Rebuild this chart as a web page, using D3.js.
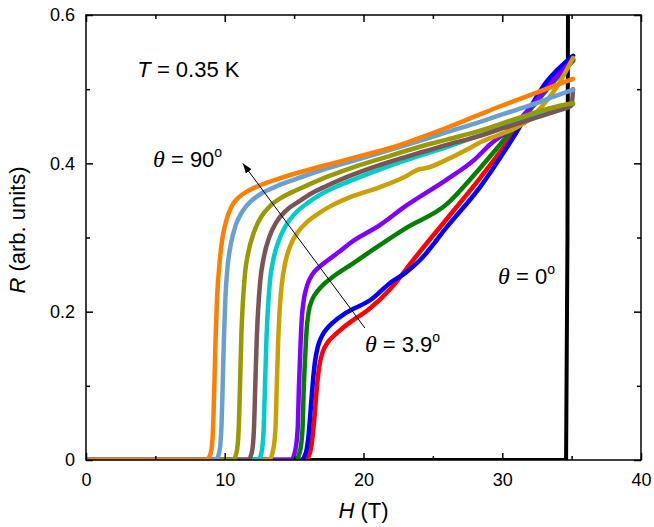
<!DOCTYPE html>
<html>
<head>
<meta charset="utf-8">
<script src="https://cdn.jsdelivr.net/npm/d3@7"></script>
<style>
  body { margin: 0; background: #fff; }
  text { font-family: "Liberation Sans", Arial, sans-serif; }
</style>
</head>
<body>
<div id="chart"></div>
<script>
// field values (T) and resistance (arb. units) for each angle
let h90 = [0, 8.7, 9.0, 9.15, 9.25, 9.35, 9.45, 9.6, 9.8, 10.1, 10.5, 11.0, 11.7, 12.5, 14, 16, 18, 20, 22, 24, 26, 28, 30, 32, 34, 35.1];
let r90 = [0, 0, 0.01, 0.04, 0.1, 0.17, 0.22, 0.26, 0.295, 0.322, 0.342, 0.354, 0.363, 0.370, 0.380, 0.391, 0.401, 0.411, 0.421, 0.434, 0.448, 0.463, 0.478, 0.492, 0.506, 0.514];

let hBlue2 = [0, 9.35, 9.6, 9.75, 9.85, 9.95, 10.05, 10.2, 10.45, 10.8, 11.3, 11.9, 12.7, 13.6, 15, 17, 19, 21.2, 24, 26, 28.4, 30, 32, 34, 35.1];
let rBlue2 = [0, 0, 0.01, 0.04, 0.1, 0.17, 0.22, 0.26, 0.292, 0.317, 0.336, 0.349, 0.36, 0.368, 0.378, 0.391, 0.402, 0.414, 0.43, 0.442, 0.456, 0.466, 0.478, 0.492, 0.499];

let hOlive = [0, 10.6, 10.85, 11.0, 11.1, 11.2, 11.3, 11.45, 11.7, 12.1, 12.6, 13.3, 14.2, 15.2, 16.5, 17.4, 19, 21.2, 24, 26, 28.4, 30, 31.3, 33, 34, 35.1];
let rOlive = [0, 0, 0.01, 0.04, 0.1, 0.17, 0.21, 0.25, 0.28, 0.307, 0.327, 0.343, 0.355, 0.364, 0.375, 0.382, 0.393, 0.406, 0.422, 0.432, 0.444, 0.454, 0.462, 0.472, 0.477, 0.481];

let hBrown = [0, 11.7, 11.95, 12.1, 12.2, 12.3, 12.4, 12.55, 12.8, 13.2, 13.7, 14.4, 15.3, 16.3, 17.4, 19, 21.2, 24, 26, 28.4, 30, 32, 34, 35.0, 35.1];
let rBrown = [0, 0, 0.01, 0.04, 0.1, 0.16, 0.2, 0.24, 0.272, 0.3, 0.32, 0.336, 0.348, 0.36, 0.37, 0.383, 0.398, 0.414, 0.425, 0.437, 0.447, 0.459, 0.471, 0.478, 0.50];

let hCyan = [0, 12.4, 12.65, 12.8, 12.9, 13.0, 13.1, 13.25, 13.5, 13.9, 14.4, 15.1, 16.0, 17.4, 19, 21.2, 24, 26, 28.4, 30.3, 32, 34, 35.1];
let rCyan = [0, 0, 0.01, 0.04, 0.1, 0.16, 0.2, 0.24, 0.27, 0.296, 0.316, 0.333, 0.347, 0.363, 0.376, 0.392, 0.41, 0.422, 0.438, 0.451, 0.462, 0.474, 0.48];

let hGold = [0, 13.2, 13.45, 13.65, 13.75, 13.85, 13.95, 14.1, 14.35, 14.75, 15.3, 16.0, 16.8, 17.6, 19, 21.2, 23, 24.0, 24.6, 26, 28.0, 28.6, 30.0, 31.0, 32.0, 33.0, 34.0, 35.1];
let rGold = [0, 0, 0.01, 0.04, 0.1, 0.16, 0.2, 0.235, 0.265, 0.29, 0.308, 0.322, 0.333, 0.342, 0.354, 0.368, 0.382, 0.392, 0.394, 0.405, 0.424, 0.43, 0.44, 0.448, 0.46, 0.48, 0.505, 0.542];

let hViolet = [0, 14.8, 15.05, 15.25, 15.35, 15.45, 15.55, 15.7, 15.95, 16.3, 16.8, 17.4, 18.2, 19, 21.2, 23, 26, 28, 29.1, 30.8, 32, 33.7, 35.1];
let rViolet = [0, 0, 0.01, 0.04, 0.1, 0.15, 0.19, 0.216, 0.236, 0.25, 0.26, 0.269, 0.28, 0.292, 0.317, 0.342, 0.378, 0.405, 0.425, 0.45, 0.475, 0.512, 0.54];

let hGreen = [0, 15.1, 15.4, 15.6, 15.7, 15.8, 15.9, 16.05, 16.3, 16.7, 17.2, 17.8, 19, 21.2, 23, 26, 28, 29.6, 30.8, 32, 33.7, 35.1];
let rGreen = [0, 0, 0.01, 0.04, 0.1, 0.14, 0.175, 0.2, 0.216, 0.228, 0.238, 0.247, 0.262, 0.29, 0.312, 0.345, 0.385, 0.42, 0.447, 0.472, 0.51, 0.538];

let hBlue = [0, 15.5, 15.85, 16.05, 16.2, 16.35, 16.5, 16.7, 17.0, 17.5, 18.1, 18.7, 20.6, 22, 23, 24.1, 26, 28.4, 30.8, 33.2, 35.1];
let rBlue = [0, 0, 0.01, 0.035, 0.07, 0.105, 0.132, 0.152, 0.167, 0.18, 0.19, 0.198, 0.217, 0.24, 0.252, 0.27, 0.314, 0.368, 0.435, 0.51, 0.545];

let hRed = [0, 15.8, 16.15, 16.35, 16.5, 16.65, 16.8, 17.05, 17.4, 17.9, 18.5, 19.2, 20.3, 22, 23.6, 26, 28.4, 30.8, 33, 35.1];
let rRed = [0, 0, 0.01, 0.035, 0.065, 0.1, 0.125, 0.145, 0.158, 0.168, 0.178, 0.188, 0.202, 0.232, 0.27, 0.325, 0.38, 0.44, 0.5, 0.54];

let hZero = [0, 34.6, 34.7, 34.75];
let rZero = [0, 0, 0.3, 0.7];

let xTicks = [0, 10, 20, 30, 40];
let xMinor = [5, 15, 25, 35];
let yTicks = [0, 0.2, 0.4, 0.6];
let yMinor = [0.1, 0.3, 0.5];

// drawn from 3.9 deg up to 90 deg so the larger angles sit on top
let series = [
  {h: hRed, r: rRed, color: "#ff0000"},
  {h: hBlue, r: rBlue, color: "#0000ff"},
  {h: hGreen, r: rGreen, color: "#008000"},
  {h: hViolet, r: rViolet, color: "#8000ff"},
  {h: hGold, r: rGold, color: "#cca000"},
  {h: hCyan, r: rCyan, color: "#00cccc"},
  {h: hBrown, r: rBrown, color: "#7b5555"},
  {h: hOlive, r: rOlive, color: "#999900"},
  {h: hBlue2, r: rBlue2, color: "#6a9fd4"},
  {h: h90, r: r90, color: "#ff8000"}
];

let width = 654;
let height = 527;
let margin = {top: 15, right: 13, bottom: 67, left: 86};

let x = d3.scaleLinear().domain([0, 40]).range([margin.left, width - margin.right]);
let y = d3.scaleLinear().domain([0, 0.6]).range([height - margin.bottom, margin.top]);

let svg = d3.select("#chart").append("svg")
  .attr("width", width)
  .attr("height", height);

let defs = svg.append("defs");
defs.append("clipPath").attr("id", "plotclip")
  .append("rect")
  .attr("x", x(0)).attr("y", y(0.6))
  .attr("width", x(40) - x(0)).attr("height", y(0) - y(0.6));

defs.append("marker")
  .attr("id", "head")
  .attr("viewBox", "0 0 10 10")
  .attr("refX", 10).attr("refY", 5)
  .attr("markerWidth", 10).attr("markerHeight", 10)
  .attr("markerUnits", "userSpaceOnUse")
  .attr("orient", "auto")
  .append("path")
  .attr("d", "M0,1.5 L10,5 L0,8.5 Z")
  .attr("fill", "#000");

let toPoints = (hs, rs) => hs.map((v, i) => [v, rs[i]]);

let line = d3.line()
  .x((d) => x(d[0]))
  .y((d) => y(d[1]))
  .curve(d3.curveMonotoneX);

let plot = svg.append("g").attr("clip-path", "url(#plotclip)");

plot.append("path")
  .attr("d", d3.line().x((d) => x(d[0])).y((d) => y(d[1]))(toPoints(hZero, rZero)))
  .attr("fill", "none")
  .attr("stroke", "#000")
  .attr("stroke-width", 4);

plot.selectAll(".curve")
  .data(series)
  .enter()
  .append("path")
  .attr("class", "curve")
  .attr("d", (d) => line(toPoints(d.h, d.r)))
  .attr("fill", "none")
  .attr("stroke", (d) => d.color)
  .attr("stroke-width", 4.5)
  .attr("stroke-linejoin", "round")
  .attr("stroke-linecap", "round");

// axes, ticks pointing inward on all four sides
function styleAxis(g) {
  g.select(".domain").remove();
  g.selectAll("line").attr("stroke", "#000").attr("stroke-width", 1.5);
  g.selectAll("text").attr("font-size", 18).attr("fill", "#000")
    .attr("font-family", "'Liberation Sans', Arial, sans-serif");
}

svg.append("g")
  .attr("transform", "translate(0," + y(0) + ")")
  .call(d3.axisBottom(x).tickValues(xTicks).tickSize(-7).tickPadding(13).tickFormat(d3.format("d")))
  .call(styleAxis);
svg.append("g")
  .attr("transform", "translate(0," + y(0) + ")")
  .call(d3.axisBottom(x).tickValues(xMinor).tickSize(-4).tickFormat(""))
  .call(styleAxis);
svg.append("g")
  .attr("transform", "translate(0," + y(0.6) + ")")
  .call(d3.axisTop(x).tickValues(xTicks).tickSize(-7).tickFormat(""))
  .call(styleAxis);
svg.append("g")
  .attr("transform", "translate(0," + y(0.6) + ")")
  .call(d3.axisTop(x).tickValues(xMinor).tickSize(-4).tickFormat(""))
  .call(styleAxis);

svg.append("g")
  .attr("transform", "translate(" + x(0) + ",0)")
  .call(d3.axisLeft(y).tickValues(yTicks).tickSize(-7).tickPadding(11).tickFormat((d) => d === 0 ? "0" : d3.format(".1f")(d)))
  .call(styleAxis);
svg.append("g")
  .attr("transform", "translate(" + x(0) + ",0)")
  .call(d3.axisLeft(y).tickValues(yMinor).tickSize(-4).tickFormat(""))
  .call(styleAxis);
svg.append("g")
  .attr("transform", "translate(" + x(40) + ",0)")
  .call(d3.axisRight(y).tickValues(yTicks).tickSize(-7).tickFormat(""))
  .call(styleAxis);
svg.append("g")
  .attr("transform", "translate(" + x(40) + ",0)")
  .call(d3.axisRight(y).tickValues(yMinor).tickSize(-4).tickFormat(""))
  .call(styleAxis);

svg.append("rect")
  .attr("x", x(0)).attr("y", y(0.6))
  .attr("width", x(40) - x(0)).attr("height", y(0) - y(0.6))
  .attr("fill", "none")
  .attr("stroke", "#000")
  .attr("stroke-width", 1.5);

// axis titles
let xt = svg.append("text")
  .attr("x", (x(0) + x(40)) / 2)
  .attr("y", 518)
  .attr("text-anchor", "middle")
  .attr("font-size", 22);
xt.append("tspan").attr("font-style", "italic").text("H");
xt.append("tspan").text(" (T)");

let yt = svg.append("text")
  .attr("transform", "translate(25,230) rotate(-90)")
  .attr("text-anchor", "middle")
  .attr("font-size", 22);
yt.append("tspan").attr("font-style", "italic").text("R");
yt.append("tspan").text(" (arb. units)");

// annotations
let tl = svg.append("text")
  .attr("x", x(3.7)).attr("y", y(0.516))
  .attr("font-size", 22);
tl.append("tspan").attr("font-style", "italic").text("T");
tl.append("tspan").text(" = 0.35 K");

function angleLabel(hx, ry, val) {
  let t = svg.append("text")
    .attr("x", x(hx)).attr("y", y(ry))
    .attr("font-size", 22);
  t.append("tspan")
    .attr("font-family", "'Liberation Serif', 'Times New Roman', serif")
    .attr("font-style", "italic")
    .attr("font-size", 24)
    .text("\u03b8");
  t.append("tspan").text(" = " + val);
  t.append("tspan").attr("font-size", 14).attr("dy", -10).text("o");
}

angleLabel(4.83, 0.395, "90");
angleLabel(20.1, 0.146, "3.9");
angleLabel(29.7, 0.237, "0");

svg.append("line")
  .attr("x1", x(20.1)).attr("y1", y(0.178))
  .attr("x2", x(11.3)).attr("y2", y(0.40))
  .attr("stroke", "#000")
  .attr("stroke-width", 1)
  .attr("marker-end", "url(#head)");
</script>
</body>
</html>
